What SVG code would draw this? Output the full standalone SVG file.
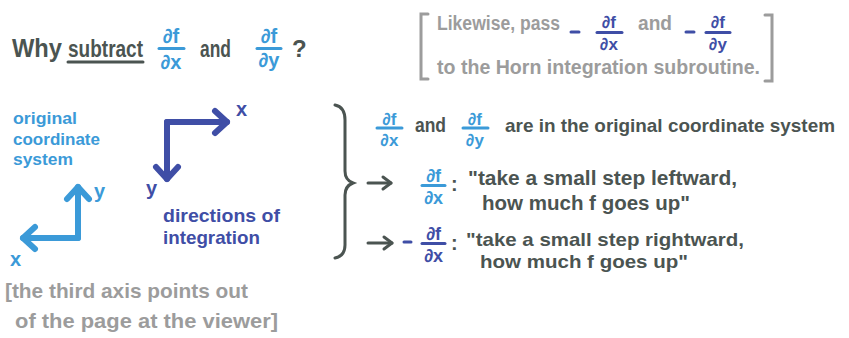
<svg xmlns="http://www.w3.org/2000/svg" width="849" height="338" viewBox="0 0 849 338">
<style>
text{font-family:"Liberation Sans","Arial",sans-serif;font-weight:bold}
.dk{fill:#4b5451}.lb{fill:#3b9ad8}.db{fill:#3f4ea6}.gr{fill:#9c9c9c}
.m{text-anchor:middle}
.bar{stroke-width:3;stroke-linecap:round;fill:none}
.sdk{stroke:#4b5451}.slb{stroke:#3b9ad8}.sdb{stroke:#3f4ea6}.sgr{stroke:#9c9c9c}
.ax{stroke-width:6;stroke-linecap:round;fill:none}
</style>
<defs>
<marker id="hl" markerUnits="userSpaceOnUse" markerWidth="20" markerHeight="26" refX="15" refY="13" orient="auto" overflow="visible"><path d="M3 2 L15 13 L3 24" fill="none" stroke="#3b9ad8" stroke-width="6" stroke-linecap="round" stroke-linejoin="round"/></marker>
<marker id="hd" markerUnits="userSpaceOnUse" markerWidth="20" markerHeight="26" refX="15" refY="13" orient="auto" overflow="visible"><path d="M3 2 L15 13 L3 24" fill="none" stroke="#3f4ea6" stroke-width="6" stroke-linecap="round" stroke-linejoin="round"/></marker>
<marker id="hk" markerUnits="userSpaceOnUse" markerWidth="14" markerHeight="16" refX="10" refY="7" orient="auto" overflow="visible"><path d="M2 1 L10 7 L2 13" fill="none" stroke="#4b5451" stroke-width="3" stroke-linecap="round" stroke-linejoin="round"/></marker>
</defs>

<g id="title">
<text class="dk" x="12" y="57" font-size="26" textLength="50" lengthAdjust="spacingAndGlyphs">Why</text>
<text class="dk" x="68" y="57" font-size="24" textLength="75" lengthAdjust="spacingAndGlyphs">subtract</text>
<line class="bar sdk" x1="68" y1="62" x2="143" y2="62"/>
<text class="lb m" x="171" y="43" font-size="20">∂f</text>
<line class="bar slb" x1="159" y1="48.5" x2="184" y2="48.5"/>
<text class="lb m" x="171" y="69" font-size="20">∂x</text>
<text class="dk" x="200" y="57" font-size="23" textLength="31" lengthAdjust="spacingAndGlyphs">and</text>
<text class="lb m" x="269" y="43" font-size="20">∂f</text>
<line class="bar slb" x1="257" y1="48.5" x2="281" y2="48.5"/>
<text class="lb m" x="269" y="67" font-size="20">∂y</text>
<text class="dk" x="292" y="57" font-size="24">?</text>
</g>

<g id="note-horn">
<path class="bar sgr" d="M428 14 L421 14 L421 79 L428 79"/>
<path class="bar sgr" d="M765 15 L772 15 L772 81 L765 81"/>
<text class="gr" x="437" y="30" font-size="20" textLength="123" lengthAdjust="spacingAndGlyphs">Likewise, pass</text>
<line class="bar sdb" x1="571" y1="32" x2="579" y2="32"/>
<text class="db m" x="609" y="28" font-size="17">∂f</text>
<line class="bar sdb" x1="597" y1="32.5" x2="622" y2="32.5"/>
<text class="db m" x="609" y="50" font-size="17">∂x</text>
<text class="gr" x="638" y="30" font-size="20" textLength="34" lengthAdjust="spacingAndGlyphs">and</text>
<line class="bar sdb" x1="686" y1="32" x2="694" y2="32"/>
<text class="db m" x="718" y="28" font-size="17">∂f</text>
<line class="bar sdb" x1="706" y1="32.5" x2="730" y2="32.5"/>
<text class="db m" x="718" y="50" font-size="17">∂y</text>
<text class="gr" x="437" y="74" font-size="20" textLength="323" lengthAdjust="spacingAndGlyphs">to the Horn integration subroutine.</text>
</g>

<g id="label-original">
<text class="lb" x="13" y="124" font-size="17" textLength="64" lengthAdjust="spacingAndGlyphs">original</text>
<text class="lb" x="13" y="145" font-size="17" textLength="87" lengthAdjust="spacingAndGlyphs">coordinate</text>
<text class="lb" x="13" y="165" font-size="17" textLength="60" lengthAdjust="spacingAndGlyphs">system</text>
</g>

<g id="axes-original">
<text class="lb" x="94" y="198" font-size="20">y</text>
<text class="lb" x="10" y="266" font-size="20">x</text>
</g>

<g id="axes-integration">
<text class="db" x="236" y="116" font-size="20">x</text>
<text class="db" x="146" y="195" font-size="20">y</text>
</g>

<g id="label-integration">
<text class="db" x="163" y="222" font-size="19" textLength="117" lengthAdjust="spacingAndGlyphs">directions of</text>
<text class="db" x="163" y="244" font-size="19" textLength="97" lengthAdjust="spacingAndGlyphs">integration</text>
</g>

<g id="explanation">
<text class="lb m" x="389.5" y="125" font-size="17">∂f</text>
<line class="bar slb" x1="377" y1="128" x2="402" y2="128"/>
<text class="lb m" x="389.5" y="146" font-size="17">∂x</text>
<text class="dk" x="415" y="132" font-size="20" textLength="31" lengthAdjust="spacingAndGlyphs">and</text>
<text class="lb m" x="475" y="125" font-size="17">∂f</text>
<line class="bar slb" x1="463" y1="128" x2="488" y2="128"/>
<text class="lb m" x="475" y="146" font-size="17">∂y</text>
<text class="dk" x="505" y="132" font-size="19" textLength="330" lengthAdjust="spacingAndGlyphs">are in the original coordinate system</text>

<text class="lb m" x="433.5" y="182" font-size="18">∂f</text>
<line class="bar slb" x1="422" y1="185.5" x2="445" y2="185.5"/>
<text class="lb m" x="433.5" y="204" font-size="18">∂x</text>
<text class="dk" x="451" y="191" font-size="20">:</text>
<text class="dk" x="468" y="185" font-size="20" textLength="269" lengthAdjust="spacingAndGlyphs">"take a small step leftward,</text>
<text class="dk" x="482" y="210" font-size="20" textLength="208" lengthAdjust="spacingAndGlyphs">how much f goes up"</text>

<line class="bar sdb" x1="404" y1="242" x2="411" y2="242"/>
<text class="db m" x="433.5" y="240" font-size="18">∂f</text>
<line class="bar sdb" x1="422" y1="243.5" x2="445" y2="243.5"/>
<text class="db m" x="433.5" y="262" font-size="18">∂x</text>
<text class="dk" x="451" y="250" font-size="20">:</text>
<text class="dk" x="466" y="246" font-size="19" textLength="278" lengthAdjust="spacingAndGlyphs">"take a small step rightward,</text>
<text class="dk" x="480" y="268" font-size="19" textLength="208" lengthAdjust="spacingAndGlyphs">how much f goes up"</text>
</g>

<g id="note-third-axis">
<text class="gr" x="5" y="298" font-size="21" textLength="243" lengthAdjust="spacingAndGlyphs">[the third axis points out</text>
<text class="gr" x="15" y="328" font-size="21" textLength="263" lengthAdjust="spacingAndGlyphs">of the page at the viewer]</text>
</g>

<g id="connectors">
<path class="ax slb" d="M78 238 L78 187" marker-end="url(#hl)"/>
<path class="ax slb" d="M78 238 L23 238" marker-end="url(#hl)"/>
<path class="ax sdb" d="M167 122 L227 122" marker-end="url(#hd)"/>
<path class="ax sdb" d="M167 122 L167 179" marker-end="url(#hd)"/>
<path class="bar sdk" d="M335 105 Q345 107 345 120 L345 171 Q345 180 353 183 Q345 186 345 195 L345 245 Q345 256 335 258"/>
<path class="bar sdk" d="M368 183 L391 183" marker-end="url(#hk)"/>
<path class="bar sdk" d="M368 243 L392 243" marker-end="url(#hk)"/>
</g>
</svg>
